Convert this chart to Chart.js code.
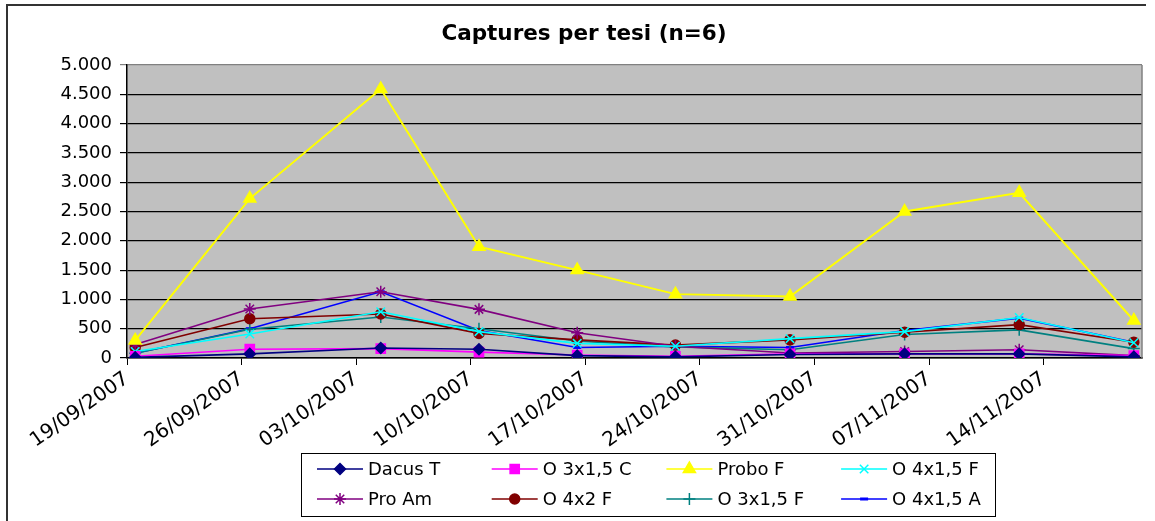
<!DOCTYPE html>
<html>
<head>
<meta charset="utf-8">
<script src="https://cdn.jsdelivr.net/npm/chart.js@4.4.0/dist/chart.umd.min.js"></script>
<style>
  html, body { margin: 0; padding: 0; background: #fff; }
  #wrap { width: 1155px; height: 521px; position: relative; }
</style>
</head>
<body>
<div id="wrap"><canvas id="grafic"></canvas></div>
<script>
// date delle catture
const dates = ["19/09/2007", "26/09/2007", "04/10/2007", "10/10/2007", "16/10/2007",
  "22/10/2007", "29/10/2007", "05/11/2007", "12/11/2007", "19/11/2007"];

const tickLabels = ["19/09/2007", "26/09/2007", "03/10/2007", "10/10/2007", "17/10/2007",
  "24/10/2007", "31/10/2007", "07/11/2007", "14/11/2007"];

const seriesNames = ["Dacus T", "O 3x1,5 C", "Probo F", "O 4x1,5 F",
  "Pro Am", "O 4x2 F", "O 3x1,5 F", "O 4x1,5 A"];

const dacusT  = [10, 70, 170, 150, 40, 20, 60, 70, 70, 20];
const o3x15C  = [30, 150, 160, 100, 50, 30, 70, 70, 70, 40];
const proboF  = [300, 2720, 4590, 1900, 1500, 1090, 1050, 2500, 2820, 640];
const o4x15F  = [110, 410, 790, 450, 250, 200, 330, 450, 690, 260];
const proAm   = [230, 835, 1130, 830, 430, 200, 85, 110, 140, 40];
const o4x2F   = [180, 670, 750, 420, 310, 220, 310, 440, 570, 270];
const o3x15F  = [80, 490, 700, 500, 290, 190, 140, 400, 480, 160];
const o4x15A  = [80, 500, 1130, 470, 180, 200, 180, 470, 680, 270];

function parseDate(s) {
  const p = s.split("/");
  return new Date(+p[2], +p[1] - 1, +p[0]);
}
const day0 = parseDate(tickLabels[0]);
function dayOf(s) {
  return Math.round((parseDate(s) - day0) / 86400000);
}
// excel asse data: ogni punto al centro del suo giorno
const xDays = dates.map(d => dayOf(d) + 0.5);
const tickDays = tickLabels.map(d => dayOf(d));

function serie(values) {
  return values.map((v, i) => ({ x: xDays[i], y: v }));
}

const styles = [
  { color: "#000080", point: "rectRot", r: 5.5 },
  { color: "#FF00FF", point: "rect", r: 6.5 },
  { color: "#FFFF00", point: "triangle", r: 7 },
  { color: "#00FFFF", point: "crossRot", r: 6 },
  { color: "#800080", point: "star", r: 6 },
  { color: "#800000", point: "circle", r: 5 },
  { color: "#008080", point: "cross", r: 6 },
  { color: "#0000FF", point: "line", r: 4 },
];
const allValues = [dacusT, o3x15C, proboF, o4x15F, proAm, o4x2F, o3x15F, o4x15A];

const datasets = allValues.map((vals, i) => ({
  label: seriesNames[i],
  data: serie(vals),
  borderColor: styles[i].color,
  backgroundColor: styles[i].color,
  borderWidth: i === 2 ? 2 : 1.6,
  pointStyle: styles[i].point,
  pointRadius: styles[i].r,
  pointHoverRadius: styles[i].r,
  pointBorderWidth: styles[i].point === "line" ? 3 : 1.5,
  tension: 0,
}));

const FONT = "'DejaVu Sans', Arial, sans-serif";

function fmt(v) {
  return String(v).replace(/\B(?=(\d{3})+(?!\d))/g, ".");
}

// sfondo grigio + cornice
const plotBg = {
  id: "plotBg",
  beforeDraw(chart) {
    const ctx = chart.ctx;
    const a = chart.chartArea;
    ctx.save();
    ctx.fillStyle = "#fff";
    ctx.fillRect(0, 0, chart.width, chart.height);
    ctx.fillStyle = "#C0C0C0";
    ctx.fillRect(a.left, a.top, a.right - a.left, a.bottom - a.top);
    ctx.strokeStyle = "#333";
    ctx.lineWidth = 2;
    ctx.beginPath();
    ctx.moveTo(7, 600);
    ctx.lineTo(7, 5);
    ctx.lineTo(1146, 5);
    ctx.stroke();
    ctx.restore();
  },
  beforeDatasetsDraw(chart) {
    const ctx = chart.ctx;
    const a = chart.chartArea;
    ctx.save();
    ctx.strokeStyle = "#808080";
    ctx.lineWidth = 1.5;
    ctx.beginPath();
    ctx.moveTo(a.right, a.top);
    ctx.lineTo(a.right, a.bottom);
    ctx.stroke();
    ctx.restore();
  },
};

function marker(ctx, st, x, y) {
  ctx.fillStyle = st.color;
  ctx.strokeStyle = st.color;
  ctx.lineWidth = st.point === "line" ? 3 : 1.5;
  if (Chart.helpers && Chart.helpers.drawPoint) {
    Chart.helpers.drawPoint(ctx, { pointStyle: st.point, rotation: 0, radius: st.r, borderWidth: ctx.lineWidth }, x, y);
  } else {
    ctx.beginPath();
    ctx.arc(x, y, 4, 0, Math.PI * 2);
    ctx.fill();
  }
}

// legenda con riquadro
const boxLegend = {
  id: "boxLegend",
  afterDraw(chart) {
    const ctx = chart.ctx;
    ctx.save();
    ctx.strokeStyle = "#000";
    ctx.lineWidth = 1;
    ctx.strokeRect(301.5, 453.5, 694, 63);
    ctx.font = "18px " + FONT;
    ctx.textBaseline = "middle";
    ctx.textAlign = "left";
    seriesNames.forEach((name, i) => {
      const col = i % 4, row = Math.floor(i / 4);
      const x = 317 + col * 174.7;
      const y = 469 + row * 30;
      const st = styles[i];
      ctx.strokeStyle = st.color;
      ctx.lineWidth = 1.6;
      ctx.beginPath();
      ctx.moveTo(x, y);
      ctx.lineTo(x + 46, y);
      ctx.stroke();
      marker(ctx, st, x + 23, y);
      ctx.fillStyle = "#000";
      ctx.fillText(name, x + 51, y + 1);
    });
    ctx.restore();
  },
};

const config = {
  type: "line",
  data: { datasets: datasets },
  options: {
    responsive: false,
    animation: false,
    layout: { padding: { left: 26, right: 13, top: 0, bottom: 0 } },
    plugins: {
      legend: { display: false },
      tooltip: { enabled: false },
      title: {
        display: true,
        text: "Captures per tesi (n=6)",
        color: "#000",
        font: { family: FONT, size: 21.5, weight: "bold" },
        padding: { top: 22, bottom: 17.2 },
      },
    },
    scales: {
      x: {
        type: "linear",
        min: 0,
        max: 62,
        afterFit: s => { s.height = 163; },
        afterBuildTicks: s => { s.ticks = tickDays.map(v => ({ value: v })); },
        grid: { drawOnChartArea: false, drawTicks: true, tickLength: 7, color: "#000" },
        border: { color: "#000", width: 1.5 },
        ticks: {
          autoSkip: false,
          minRotation: 35,
          maxRotation: 35,
          padding: 2,
          color: "#000",
          font: { family: FONT, size: 20 },
          callback: (v, i) => tickLabels[i],
        },
      },
      y: {
        min: 0,
        max: 5000,
        afterFit: s => { s.width = 101; },
        grid: {
          color: c => (c.tick && c.tick.value === 5000 ? "#808080" : "#000"),
          lineWidth: 1.2,
          drawTicks: true,
          tickLength: 7,
        },
        border: { color: "#000", width: 1.5 },
        ticks: {
          stepSize: 500,
          padding: 8,
          color: "#000",
          font: { family: FONT, size: 18 },
          callback: v => fmt(v),
        },
      },
    },
  },
  plugins: [plotBg, boxLegend],
};

const canvas = document.getElementById("grafic");
canvas.width = 1155;
canvas.height = 521;
const grafic = new Chart(canvas, config);
</script>
</body>
</html>
